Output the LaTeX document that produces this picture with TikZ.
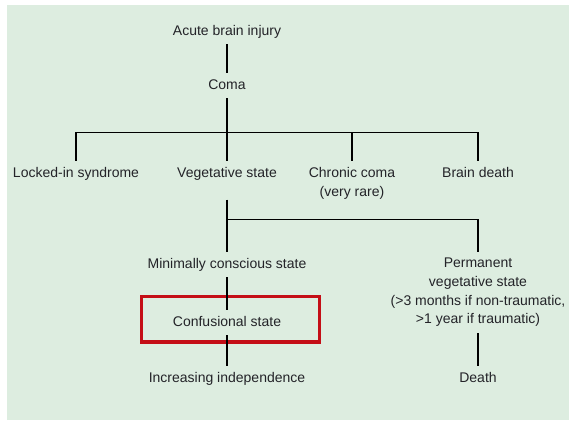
\documentclass[tikz,border=0pt]{standalone}
\usepackage{fontspec}
\setmainfont{Liberation Sans}
\usepackage{xcolor}
\usepackage{tikz}
\usetikzlibrary{positioning}

\definecolor{panelgreen}{RGB}{221,237,224}
\definecolor{boxred}{RGB}{196,14,22}
\definecolor{inkgray}{RGB}{35,35,40}

\begin{document}
\begin{tikzpicture}[x=1pt, y=-1pt,
    state/.style={text=inkgray, font=\fontsize{14}{18.7}\selectfont, text height=10pt, text depth=3pt, inner xsep=2pt, inner ysep=6pt},
    multi/.style={text=inkgray, font=\fontsize{14}{18.7}\selectfont, align=center, inner xsep=2pt, inner ysep=6pt, anchor=north},
    link/.style={draw=black, line width=1.2pt}]
    % Panel
    \useasboundingbox (0,0) rectangle (569,420);
    \fill[panelgreen] (7,5) rectangle (569,420);

    \begin{scope}[yshift=-1.5pt]
    % Top of the tree
    \node[state] (injury) at (227,30) {Acute brain injury};
    \node[state] (coma) at (227,84) {Coma};
    \coordinate (bar) at (227,131);

    % Outcomes of coma
    \node[state] (locked) at (76,172) {Locked-in syndrome};
    \node[state] (veg) at (227,172) {Vegetative state};
    \node[multi] (chronic) at (352,159.5) {Chronic coma\\(very rare)};
    \node[state] (brain) at (478,172) {Brain death};

    % Outcomes of vegetative state
    \coordinate (split) at (227,218);
    \node[state] (mcs) at (227,263) {Minimally conscious state};
    \node[multi] (perm) at (478,250.5) {Permanent\\vegetative state\\(>3 months if non-traumatic,\\>1 year if traumatic)};
    \node[state] (conf) at (227,321) {Confusional state};
    \node[state] (indep) at (227,377) {Increasing independence};
    \node[state] (death) at (478,377) {Death};

    % Highlight
    \node[draw=boxred, line width=3.4pt, minimum width=177.6pt, minimum height=45.6pt, inner sep=0pt] (focus) at (230.5,317.5) {};

    % Connectors
    \draw[link] (injury) -- (coma);
    \draw[link] (coma) -- (bar);
    \draw[link] (locked) |- (bar) -| (brain);
    \draw[link] (bar) -- (veg);
    \draw[link] (chronic |- bar) -- (chronic);
    \draw[link, shorten <=13.5pt] (veg) -- (mcs);
    \draw[link] (split) -| (perm);
    \draw[link] (mcs) -- (conf);
    \draw[link] (conf) -- (indep);
    \draw[link] (perm) -- (death);
    \end{scope}
\end{tikzpicture}
\end{document}
